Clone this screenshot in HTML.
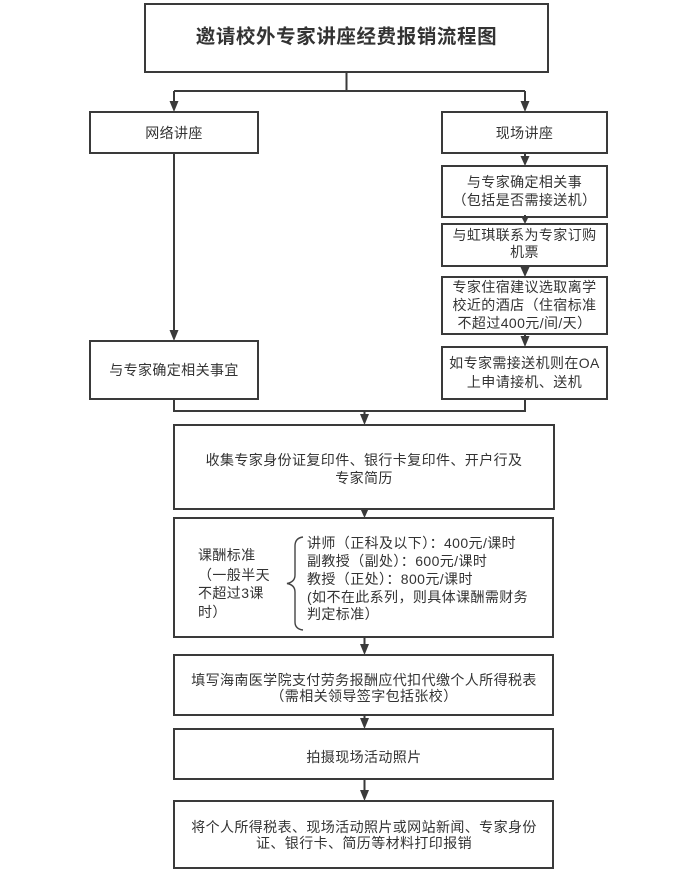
<!DOCTYPE html>
<html><head><meta charset="utf-8"><style>
html,body{margin:0;padding:0;background:#fff;}
svg{display:block;}
text{font-family:"Liberation Sans","Noto Sans CJK SC",sans-serif;font-size:14px;fill:#333;letter-spacing:0.4px;}
.t{font-size:19.5px;font-weight:bold;fill:#333;letter-spacing:0.6px;}
</style></head><body>
<svg width="694" height="874" viewBox="0 0 694 874" xmlns="http://www.w3.org/2000/svg">
<g fill="none" stroke="#3a3a3a" stroke-width="2">
<rect x="145" y="4" width="403" height="68"/>
<rect x="90" y="112" width="168" height="41"/>
<rect x="442" y="112" width="165" height="41"/>
<rect x="442" y="166" width="165" height="51"/>
<rect x="442" y="224" width="165" height="42"/>
<rect x="442" y="277" width="165" height="57"/>
<rect x="442" y="347" width="165" height="52"/>
<rect x="90" y="341" width="168" height="58"/>
<rect x="174" y="425" width="380" height="84"/>
<rect x="174" y="518" width="379" height="119"/>
<rect x="174" y="655" width="379" height="60"/>
<rect x="174" y="729" width="379" height="50"/>
<rect x="174" y="801" width="379" height="67"/>
<path d="M346.5 72V91M174 91H525M174 91V102M525 91V102"/>
<path d="M525 153V157M525 217V215M525 266V268M525 334V338"/>
<path d="M174 153V332"/>
<path d="M174 399V411H525V399M364.5 411V416"/>
<path d="M364.5 509V510M364.5 637V646M364.5 715V720M364.5 779V792"/>
</g>
<g fill="#3a3a3a">
<path d="M169.5 101L178.5 101L174 112Z"/>
<path d="M520.5 101L529.5 101L525 112Z"/>
<path d="M520.5 156L529.5 156L525 166Z"/>
<path d="M521 216L529 216L525 224Z"/>
<path d="M520.5 267L529.5 267L525 277Z"/>
<path d="M520.5 336L529.5 336L525 347Z"/>
<path d="M169.5 330L178.5 330L174 341Z"/>
<path d="M360 414L369 414L364.5 425Z"/>
<path d="M360.5 509L368.5 509L364.5 518Z"/>
<path d="M360 644L369 644L364.5 655Z"/>
<path d="M360 718L369 718L364.5 729Z"/>
<path d="M360 790L369 790L364.5 801Z"/>
</g>
<path d="M303 537Q295 538 295 546V575Q295 582 287 583.5Q295 585 295 592V622Q295 629 303 630" fill="none" stroke="#444" stroke-width="1.4"/>

<text class="t" x="346.5" y="43" text-anchor="middle">邀请校外专家讲座经费报销流程图</text>
<text x="174" y="138" text-anchor="middle">网络讲座</text>
<text x="524.5" y="138" text-anchor="middle">现场讲座</text>
<text x="524.5" y="187" text-anchor="middle">与专家确定相关事</text>
<text x="524.5" y="205" text-anchor="middle">（包括是否需接送机）</text>
<text x="524.5" y="240" text-anchor="middle">与虹琪联系为专家订购</text>
<text x="524.5" y="257" text-anchor="middle">机票</text>
<text x="524.5" y="292" text-anchor="middle">专家住宿建议选取离学</text>
<text x="524.5" y="310" text-anchor="middle">校近的酒店（住宿标准</text>
<text x="524.5" y="328" text-anchor="middle">不超过400元/间/天）</text>
<text x="524.5" y="368" text-anchor="middle">如专家需接送机则在OA</text>
<text x="524.5" y="387" text-anchor="middle">上申请接机、送机</text>
<text x="174" y="375" text-anchor="middle">与专家确定相关事宜</text>
<text x="364" y="465" text-anchor="middle">收集专家身份证复印件、银行卡复印件、开户行及</text>
<text x="364" y="483" text-anchor="middle">专家简历</text>
<text x="198" y="560">课酬标准</text>
<text x="198" y="580">（一般半天</text>
<text x="198" y="598">不超过3课</text>
<text x="198" y="617">时）</text>
<text x="307" y="548">讲师（正科及以下）：400元/课时</text>
<text x="307" y="566">副教授（副处）：600元/课时</text>
<text x="307" y="584">教授（正处）：800元/课时</text>
<text x="307" y="602">(如不在此系列，则具体课酬需财务</text>
<text x="307" y="619">判定标准）</text>
<text x="364" y="685" text-anchor="middle">填写海南医学院支付劳务报酬应代扣代缴个人所得税表</text>
<text x="364" y="701" text-anchor="middle">（需相关领导签字包括张校）</text>
<text x="364" y="762" text-anchor="middle">拍摄现场活动照片</text>
<text x="364" y="832" text-anchor="middle">将个人所得税表、现场活动照片或网站新闻、专家身份</text>
<text x="364" y="848" text-anchor="middle">证、银行卡、简历等材料打印报销</text>
</svg>
</body></html>
